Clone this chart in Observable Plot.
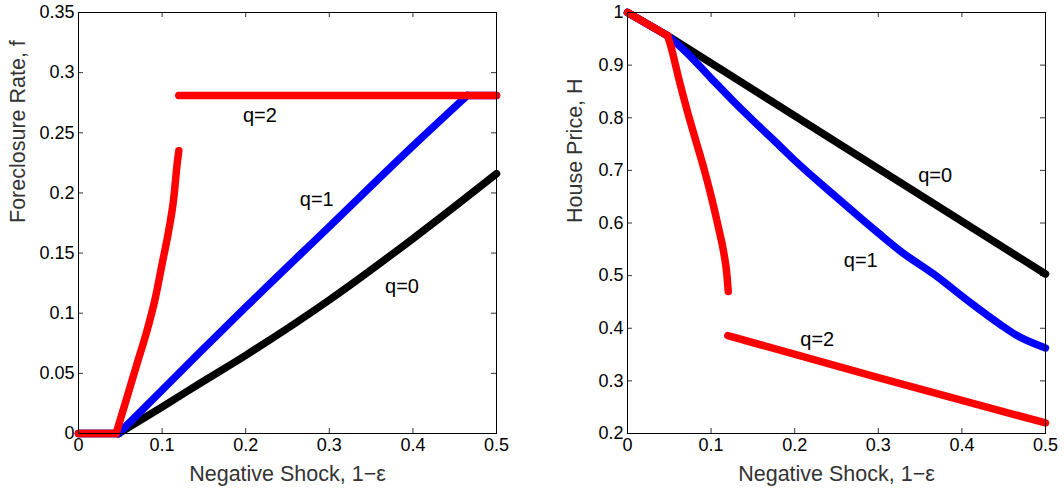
<!DOCTYPE html>
<html><head><meta charset="utf-8">
<script src="https://cdn.jsdelivr.net/npm/d3@7"></script>
<script src="https://cdn.jsdelivr.net/npm/@observablehq/plot@0.6"></script>
<style>
body{margin:0;background:#fff;}
#wrap{display:flex;width:1064px;height:498px;}
#wrap svg{overflow:visible;}
</style></head><body><div id="wrap"></div>
<script>
// ---- tick values ----
const xTicks = [0, 0.1, 0.2, 0.3, 0.4, 0.5];
const fTicks = [0, 0.05, 0.1, 0.15, 0.2, 0.25, 0.3, 0.35];
const hTicks = [0.2, 0.3, 0.4, 0.5, 0.6, 0.7, 0.8, 0.9, 1];

// ---- Left panel: Foreclosure rate f (pieces split at kinks) ----
const fQ0flatX = [0, 0.048];
const fQ0flatY = [0, 0];
const fQ0x = [0.048, 0.1, 0.146, 0.2, 0.3, 0.4, 0.5];
const fQ0y = [0, 0.022, 0.042, 0.065, 0.111, 0.162, 0.216];
const fQ1flatX = [0, 0.048];
const fQ1flatY = [0, 0];
const fQ1x = [0.048, 0.1, 0.146, 0.2, 0.3, 0.4, 0.465];
const fQ1y = [0, 0.036, 0.068, 0.105, 0.172, 0.239, 0.281];
const fQ1capX = [0.465, 0.5];
const fQ1capY = [0.281, 0.281];
const fQ2flatX = [0, 0.045];
const fQ2flatY = [0, 0];
const fQ2ax = [0.045, 0.058, 0.070, 0.082, 0.092, 0.100, 0.108, 0.114, 0.118, 0.120];
const fQ2ay = [0, 0.030, 0.058, 0.0856, 0.113, 0.141, 0.169, 0.196, 0.224, 0.235];
const fQ2bx = [0.12, 0.5];
const fQ2by = [0.281, 0.281];

// ---- Right panel: House price H ----
const hStartX = [0, 0.048];
const hStartY = [1, 0.956];
const hQ0x = [0.048, 0.5];
const hQ0y = [0.956, 0.503];
const hQ1x = [0.048, 0.07, 0.1, 0.125, 0.15, 0.183, 0.2, 0.25, 0.3, 0.327, 0.367, 0.407, 0.446, 0.466, 0.5];
const hQ1y = [0.956, 0.925, 0.875, 0.834, 0.795, 0.745, 0.719, 0.649, 0.581, 0.546, 0.502, 0.4525, 0.407, 0.386, 0.3625];
const hQ2ax = [0.048, 0.052, 0.062, 0.072, 0.082, 0.092, 0.101, 0.109, 0.115, 0.119, 0.1205];
const hQ2ay = [0.956, 0.935, 0.87, 0.81, 0.755, 0.70, 0.645, 0.59, 0.545, 0.50, 0.47];
const hQ2bx = [0.12, 0.3, 0.5];
const hQ2by = [0.386, 0.306, 0.22];

// ---- curve labels ----
const labelText = ["q=0", "q=1", "q=2"];
const fLabelX = [0.387, 0.285, 0.217];
const fLabelY = [0.122, 0.1945, 0.264];
const hLabelX = [0.368, 0.279, 0.227];
const hLabelY = [0.690, 0.529, 0.378];

const xLabel = "Negative Shock, 1\u2212\u03b5";
const fLabel = "Foreclosure Rate, f";
const hLabel = "House Price, H";

const colors = {q0: "#000000", q1: "#0000ff", q2: "#ff0000"};

function rows(xs, ys) { return xs.map((x, i) => ({x, y: ys[i]})); }
const fmt = d => String(+d.toFixed(2));
const FONT = "'Liberation Sans', Arial, Helvetica, sans-serif";

function chart({series, yDomain, yTicks, yLabel, lx, ly, marginLeft, marginRight, yLabelDx}) {
  const W = 532, H = 498, mt = 12, mb = 65;
  const iw = W - marginLeft - marginRight, ih = H - mt - mb, t = 5;
  const lineMarks = series.map(s => Plot.line(rows(s.xs, s.ys), {
    x: "x", y: "y", stroke: s.color, strokeWidth: 7.5,
    strokeLinecap: "round", strokeLinejoin: "round", curve: s.curve || "monotone-x"
  }));
  const labs = labelText.map((text, i) => ({text, x: lx[i], y: ly[i]}));
  return Plot.plot({
    width: W, height: H, marginLeft, marginRight, marginTop: mt, marginBottom: mb,
    style: {fontFamily: FONT, fontSize: "18px", color: "#000", background: "#fff", overflow: "visible"},
    x: {domain: [0, 0.5]},
    y: {domain: yDomain},
    marks: [
      Plot.ruleX(xTicks, {stroke: "#333", insetTop: ih - t}),
      Plot.ruleX(xTicks, {stroke: "#333", insetBottom: ih - t}),
      Plot.ruleY(yTicks, {stroke: "#333", insetRight: iw - t}),
      Plot.ruleY(yTicks, {stroke: "#333", insetLeft: iw - t}),
      Plot.axisX(xTicks, {tickSize: 0, tickPadding: 5, label: null, tickFormat: fmt, fill: "#000"}),
      Plot.axisY(yTicks, {tickSize: 0, tickPadding: 4, label: null, tickFormat: fmt, fill: "#000"}),
      ...lineMarks,
      Plot.frame({stroke: "#000", strokeWidth: 1}),
      Plot.text(labs, {x: "x", y: "y", text: "text", fontSize: 20, fill: "#000", fontFamily: FONT}),
      Plot.text([xLabel], {text: d => d, frameAnchor: "bottom", dy: 47, fontSize: 21.5, fill: "#333", fontFamily: FONT}),
      Plot.text([yLabel], {text: d => d, frameAnchor: "left", dx: yLabelDx, rotate: -90, fontSize: 21.5, fill: "#333", fontFamily: FONT})
    ]
  });
}

const left = chart({
  series: [
    {xs: fQ0flatX, ys: fQ0flatY, color: colors.q0, curve: "linear"},
    {xs: fQ0x, ys: fQ0y, color: colors.q0},
    {xs: fQ1flatX, ys: fQ1flatY, color: colors.q1, curve: "linear"},
    {xs: fQ1x, ys: fQ1y, color: colors.q1},
    {xs: fQ1capX, ys: fQ1capY, color: colors.q1, curve: "linear"},
    {xs: fQ2flatX, ys: fQ2flatY, color: colors.q2, curve: "linear"},
    {xs: fQ2ax, ys: fQ2ay, color: colors.q2},
    {xs: fQ2bx, ys: fQ2by, color: colors.q2, curve: "linear"}
  ],
  yDomain: [0, 0.35], yTicks: fTicks, yLabel: fLabel, lx: fLabelX, ly: fLabelY,
  marginLeft: 78, marginRight: 36, yLabelDx: -60
});
const right = chart({
  series: [
    {xs: hStartX, ys: hStartY, color: colors.q0, curve: "linear"},
    {xs: hQ0x, ys: hQ0y, color: colors.q0, curve: "linear"},
    {xs: hStartX, ys: hStartY, color: colors.q1, curve: "linear"},
    {xs: hQ1x, ys: hQ1y, color: colors.q1},
    {xs: hStartX, ys: hStartY, color: colors.q2, curve: "linear"},
    {xs: hQ2ax, ys: hQ2ay, color: colors.q2},
    {xs: hQ2bx, ys: hQ2by, color: colors.q2}
  ],
  yDomain: [0.2, 1], yTicks: hTicks, yLabel: hLabel, lx: hLabelX, ly: hLabelY,
  marginLeft: 95, marginRight: 19, yLabelDx: -52
});
document.getElementById("wrap").append(left, right);
</script>
</body></html>
